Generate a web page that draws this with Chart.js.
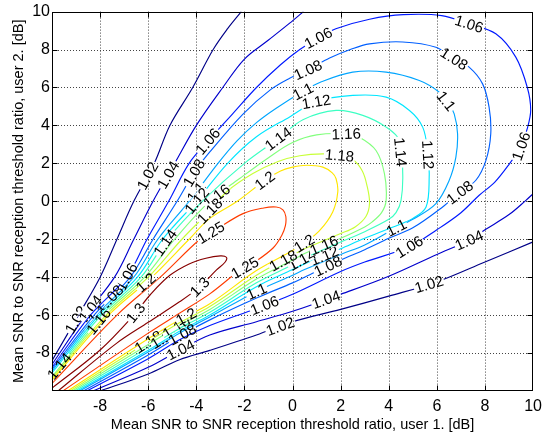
<!DOCTYPE html>
<html>
<head>
<meta charset="utf-8">
<script src="https://cdn.jsdelivr.net/npm/chart.js@4.4.0/dist/chart.umd.min.js"></script>
<style>
  html, body { margin: 0; padding: 0; background: #fff; }
  #wrap { width: 548px; height: 437px; }
</style>
</head>
<body>
<div id="wrap"><canvas id="contour"></canvas></div>
<script>
// tick values on both axes (dB)
const xTicks = [-10, -8, -6, -4, -2, 0, 2, 4, 6, 8, 10];
const yTicks = [-10, -8, -6, -4, -2, 0, 2, 4, 6, 8, 10];

// iso-lines, [user1 dB, user2 dB]
const c102up = [[-10,-8.4],[-8.9,-6],[-8.0,-4],[-7.3,-2],[-6.6,0],[-5.75,2],[-5.1,4],[-4.15,6],[-3.3,8],[-2.7,9.1],[-2.13,10]];
const c102lo = [[-8,-10],[-6,-9.1],[-4.7,-8.35],[-3.44,-7.86],[-1.5,-7.05],[0,-6.35],[2,-5.7],[4,-5.0],[6,-4.25],[8,-3.2],[10,-2.14]];
const c104up = [[-10,-8.6],[-8.6,-6],[-7.4,-4],[-6.6,-2],[-5.8,0],[-4.9,2],[-4.0,4],[-2.9,6],[-2.0,7.5],[-1,8.5],[-0.12,9.39],[0.45,10]];
const c104lo = [[-8.3,-10],[-6,-8.75],[-4.7,-7.85],[-3.44,-7.05],[-1.5,-6.35],[0,-5.8],[2,-4.9],[4,-3.95],[6,-2.8],[7.34,-2.05],[8,-1.5],[9,-0.7],[9.7,0.05],[10,0.4]];
const c106 = [[-10,-8.75],[-8.4,-6],[-6.9,-4],[-6.05,-2],[-5.15,0],[-4.3,2],[-3.5,3.2],[-2.5,4.6],[-1.5,6.0],[-0.5,7.2],[0.3,8.0],[1.05,8.6],[1.8,9.1],[3.2,9.6],[4.6,9.84],[6.2,9.79],[7.34,9.35],[8.45,8.83],[9.28,7.6],[9.76,6.0],[9.9,4.8],[9.75,3.8],[9.5,2.9],[9.0,1.95],[8.4,1.0],[7.76,0.32],[7,-0.6],[6,-1.5],[4.85,-2.4],[3,-3.2],[2,-3.7],[0,-4.9],[-1.5,-5.65],[-3.44,-6.55],[-4.7,-7.3],[-6,-8.3],[-8.55,-10]];
const c108 = [[-10,-8.85],[-8.25,-6],[-6.75,-4],[-5.8,-2],[-4.8,0],[-4.1,1.5],[-3.44,2.6],[-2.06,4.6],[-0.9,5.9],[-0.12,6.49],[0.64,6.93],[1.54,7.55],[2.4,8.0],[3.2,8.3],[4.58,8.4],[5.96,8.12],[6.72,7.51],[7.34,7.07],[7.9,6.19],[8.17,4.96],[8.24,3.56],[8.04,2.16],[7.62,1.11],[6.93,0.45],[6.24,-0.3],[5,-1.4],[4,-1.95],[3,-2.55],[2,-3.1],[0.5,-4.0],[0,-4.3],[-1.5,-5.1],[-3.44,-6.25],[-4.7,-7.1],[-6,-8.1],[-8.7,-10]];
const c110 = [[-10,-8.95],[-8.15,-6],[-6.6,-4],[-5.6,-2],[-4.3,0],[-3.1,2],[-2.3,3.2],[-1.5,4.15],[-0.68,4.91],[0.43,5.79],[1.2,6.3],[2.5,6.81],[3.89,6.81],[5.27,6.37],[6.1,5.75],[6.5,5.1],[6.72,4.61],[6.86,3.56],[6.79,2.33],[6.51,1.1],[5.96,-0.12],[5,-0.95],[4.3,-1.4],[3,-2.3],[2,-2.8],[0.5,-3.6],[0,-3.9],[-1.5,-4.75],[-3.44,-6.1],[-4.7,-6.95],[-6,-7.95],[-8.85,-10]];
const c112 = [[-10,-9.05],[-8.05,-6],[-6.45,-4],[-5.4,-2],[-4.0,0],[-2.7,2],[-1.5,3.4],[-0.12,4.45],[0.98,5.25],[2.5,5.58],[3.89,5.49],[4.86,4.79],[5.41,3.91],[5.62,2.6],[5.68,1.28],[5.55,-0.3],[5.0,-0.9],[4,-1.45],[3,-1.95],[2,-2.5],[0.5,-3.3],[0,-3.6],[-1.5,-4.5],[-3.44,-6.0],[-4.7,-6.85],[-6,-7.85],[-8.95,-10]];
const c114 = [[-10,-9.15],[-7.95,-6],[-6.3,-4],[-5.2,-2],[-3.75,0],[-2.0,2],[-0.6,3.3],[0.43,4.3],[1.81,4.79],[2.92,4.53],[3.89,3.91],[4.44,3.21],[4.58,1.46],[4.51,0.05],[4.3,-0.6],[4,-0.95],[3,-1.6],[2,-2.15],[0.5,-3.0],[0,-3.35],[-1.5,-4.3],[-3.44,-5.85],[-4.7,-6.7],[-6,-7.7],[-9.05,-10]];
const c116 = [[-10,-9.25],[-7.85,-6],[-6.15,-4],[-4.9,-2],[-3.45,0],[-2.2,1.2],[-1.0,2.3],[0,3.1],[1.0,3.5],[2.23,3.56],[2.78,3.38],[3.47,2.68],[3.82,1.46],[3.89,0.05],[3.7,-0.6],[3.3,-1.1],[3,-1.35],[2,-1.95],[0.5,-2.75],[0,-3.1],[-1.5,-4.1],[-3.44,-5.7],[-4.7,-6.55],[-6,-7.55],[-9.15,-10]];
const c118 = [[-10,-9.33],[-7.75,-6],[-6.0,-4],[-4.6,-2],[-3.44,-0.5],[-2.75,0.49],[-1.65,1.46],[-0.6,2.1],[0.3,2.4],[1.26,2.5],[1.95,2.42],[2.5,2.2],[2.9,1.6],[3.1,0.8],[3.2,-0.1],[3.05,-0.8],[2.6,-1.35],[2,-1.7],[0.5,-2.5],[0,-2.85],[-1.5,-3.9],[-3.44,-5.55],[-4.7,-6.4],[-6,-7.4],[-9.25,-10]];
const c120 = [[-10,-9.42],[-7.65,-6],[-5.85,-4],[-4.3,-2],[-3.44,-0.9],[-2.3,0],[-1.16,1.1],[-0.5,1.6],[0,1.8],[0.6,1.9],[1.26,1.8],[1.65,1.5],[1.81,1.19],[1.88,0.49],[1.67,-0.56],[1.12,-1.55],[0.5,-2.2],[0,-2.6],[-1.5,-3.65],[-3.44,-5.4],[-4.7,-6.25],[-6,-7.25],[-9.35,-10]];
const c125 = [[-10,-9.6],[-7.3,-6],[-5.5,-4],[-3.85,-2],[-3.2,-1.5],[-2.06,-0.65],[-1.2,-0.35],[-0.68,-0.3],[-0.4,-0.45],[-0.28,-0.8],[-0.3,-1.3],[-0.45,-1.8],[-0.8,-2.45],[-1.51,-3.15],[-2.2,-3.65],[-3.44,-4.88],[-4.7,-5.9],[-6,-6.95],[-9.55,-10]];
const c130 = [[-10,-9.85],[-8,-7.84],[-6.6,-6],[-5.9,-4.9],[-5.1,-3.9],[-4.3,-3.3],[-3.6,-3.0],[-3.0,-2.88],[-2.75,-2.95],[-2.8,-3.2],[-3.17,-3.63],[-3.86,-4.51],[-4.7,-5.3],[-6,-6.38],[-7.32,-7.49],[-9.75,-10]];

// [level, user1 dB, user2 dB] of each inline label
const contourLabels = [
  [1.02,-6.06,1.37],[1.04,-5.25,1.45],[1.06,-3.55,3.2],[1.08,-4.1,1.5],[1.1,-4.2,0.67],[1.12,-4.0,0.05],
  [1.16,-3.2,0.35],[1.18,-3.45,-0.5],[1.14,-5.24,-2.23],[1.2,-1.16,1.1],[1.25,-3.4,-1.65],
  [1.02,-8.98,-6.26],[1.04,-8.49,-5.56],[1.06,-6.9,-3.98],[1.08,-7.6,-5.04],[1.1,-7.9,-6.2],[1.16,-7.8,-6.6],
  [1.14,-9.67,-8.72],[1.2,-6.07,-4.33],[1.3,-6.49,-5.91],[1.3,-3.86,-4.51],[1.25,-1.98,-3.5],
  [1.18,-5.99,-7.42],[1.14,-5.3,-7.25],[1.16,-4.88,-6.54],[1.2,-4.33,-6.3],[1.08,-4.6,-6.98],[1.04,-4.68,-7.77],
  [1.02,-0.54,-6.5],[1.06,-1.16,-5.5],[1.1,-1.44,-4.9],[1.04,1.4,-5.2],[1.08,1.5,-3.5],[1.12,1.3,-2.8],
  [1.14,0.4,-3.1],[1.18,-0.4,-3.1],[1.2,0.45,-2.15],[1.16,1.3,-2.3],
  [1.1,4.3,-1.35],[1.06,4.85,-2.4],[1.04,7.34,-2.05],[1.02,5.68,-4.42],[1.08,6.93,0.5],[1.06,9.5,2.9],
  [1.12,5.6,2.45],[1.14,4.55,2.6],[1.1,6.4,5.3],[1.08,6.72,7.51],[1.06,7.34,9.35],
  [1.06,1.05,8.65],[1.08,0.64,6.93],[1.1,0.43,5.8],[1.12,0.98,5.3],[1.14,-0.6,3.3],[1.16,2.23,3.56],[1.18,1.95,2.42]
];

const contourLines = [
  [1.02, c102up], [1.02, c102lo], [1.04, c104up], [1.04, c104lo], [1.06, c106], [1.08, c108],
  [1.1, c110], [1.12, c112], [1.14, c114], [1.16, c116], [1.18, c118], [1.2, c120], [1.25, c125], [1.3, c130]
];

// jet colours as used by the contour levels
const levelColor = {
  1.02: 'rgb(0,0,135)', 1.04: 'rgb(0,0,205)', 1.06: 'rgb(0,25,255)', 1.08: 'rgb(0,95,255)',
  1.1: 'rgb(0,165,255)', 1.12: 'rgb(0,230,255)', 1.14: 'rgb(60,255,195)', 1.16: 'rgb(130,255,125)',
  1.18: 'rgb(200,255,55)', 1.2: 'rgb(255,230,0)', 1.25: 'rgb(255,60,0)', 1.3: 'rgb(135,0,0)'
};

const FONT = '"Liberation Sans", Arial, Helvetica, sans-serif';

function drawGrid(chart) {
  const { ctx, chartArea: a, scales: { x, y } } = chart;
  ctx.save();
  ctx.strokeStyle = '#444';
  ctx.lineWidth = 1;
  ctx.setLineDash([1, 2]);
  xTicks.forEach(v => {
    if (v <= -10 || v >= 10) return;
    const px = Math.round(x.getPixelForValue(v)) + 0.5;
    ctx.beginPath(); ctx.moveTo(px, a.top); ctx.lineTo(px, a.bottom); ctx.stroke();
  });
  yTicks.forEach(v => {
    if (v <= -10 || v >= 10) return;
    const py = Math.round(y.getPixelForValue(v)) + 0.5;
    ctx.beginPath(); ctx.moveTo(a.left, py); ctx.lineTo(a.right, py); ctx.stroke();
  });
  ctx.restore();
}

const contourDecor = {
  id: 'contourDecor',
  beforeDatasetsDraw(chart) {
    drawGrid(chart);
  },
  afterDatasetsDraw(chart) {
    const { ctx, chartArea: a, scales: { x, y } } = chart;
    ctx.save();
    ctx.font = '15px ' + FONT;
    contourLabels.forEach(([lv, lx, ly]) => {
      const px = x.getPixelForValue(lx), py = y.getPixelForValue(ly);
      let best = null;
      contourLines.forEach(([level, pts]) => {
        if (level !== lv) return;
        for (let i = 0; i < pts.length - 1; i++) {
          const ax = x.getPixelForValue(pts[i][0]), ay = y.getPixelForValue(pts[i][1]);
          const bx = x.getPixelForValue(pts[i + 1][0]), by = y.getPixelForValue(pts[i + 1][1]);
          const dx = bx - ax, dy = by - ay, len2 = dx * dx + dy * dy;
          let t = len2 ? ((px - ax) * dx + (py - ay) * dy) / len2 : 0;
          t = Math.max(0, Math.min(1, t));
          const qx = ax + t * dx, qy = ay + t * dy;
          const d = (qx - px) ** 2 + (qy - py) ** 2;
          if (!best || d < best.d) best = { d, qx, qy, ang: Math.atan2(dy, dx) };
        }
      });
      if (!best) return;
      let ang = best.ang;
      if (ang > Math.PI / 2) ang -= Math.PI;
      if (ang < -Math.PI / 2) ang += Math.PI;
      const text = String(lv);
      const w = ctx.measureText(text).width;

      // cut a gap in the line, then put back the grid and the other levels
      ctx.save();
      ctx.translate(best.qx, best.qy);
      ctx.rotate(ang);
      ctx.beginPath();
      ctx.rect(-w / 2 - 1, -5.5, w + 2, 11);
      ctx.restore();
      ctx.save();
      ctx.fillStyle = '#fff';
      ctx.fill();
      ctx.clip();
      drawGrid(chart);
      chart.data.datasets.forEach((ds, i) => {
        if (ds.level === lv) return;
        chart.getDatasetMeta(i).dataset.draw(ctx, a);
      });
      ctx.restore();

      ctx.save();
      ctx.translate(best.qx, best.qy);
      ctx.rotate(ang);
      ctx.fillStyle = '#000';
      ctx.textAlign = 'center';
      ctx.textBaseline = 'middle';
      ctx.fillText(text, 0, 1);
      ctx.restore();
    });
    ctx.restore();
  },
  afterDraw(chart) {
    const { ctx, chartArea: a, scales: { x, y } } = chart;
    ctx.save();
    ctx.strokeStyle = '#000';
    ctx.lineWidth = 1;
    const L = Math.round(a.left) + 0.5, R = Math.round(a.right) - 0.5;
    const T = Math.round(a.top) + 0.5, B = Math.round(a.bottom) - 0.5;
    ctx.strokeRect(L, T, R - L, B - T);
    const tl = 5;
    ctx.beginPath();
    xTicks.forEach(v => {
      if (v <= -10 || v >= 10) return;
      const px = Math.round(x.getPixelForValue(v)) + 0.5;
      ctx.moveTo(px, B); ctx.lineTo(px, B - tl);
      ctx.moveTo(px, T); ctx.lineTo(px, T + tl);
    });
    yTicks.forEach(v => {
      if (v <= -10 || v >= 10) return;
      const py = Math.round(y.getPixelForValue(v)) + 0.5;
      ctx.moveTo(L, py); ctx.lineTo(L + tl, py);
      ctx.moveTo(R, py); ctx.lineTo(R - tl, py);
    });
    ctx.stroke();
    ctx.restore();
  }
};

const datasets = contourLines.map(([level, pts]) => ({
  level,
  data: pts.map(([px, py]) => ({ x: px, y: py })),
  showLine: true,
  borderColor: levelColor[level],
  borderWidth: 1.15,
  pointRadius: 0,
  tension: 0.35,
  fill: false
}));

const tickLabel = v => (v === -10 ? '' : String(v));

new Chart(document.getElementById('contour'), {
  type: 'scatter',
  data: { datasets },
  options: {
    responsive: true,
    maintainAspectRatio: false,
    animation: false,
    events: [],
    layout: { padding: { top: 11, right: 14, left: 0, bottom: 0 } },
    plugins: { legend: { display: false }, tooltip: { enabled: false } },
    scales: {
      x: {
        type: 'linear', position: 'bottom', min: -10, max: 10,
        afterFit: s => { s.height = 46; },
        afterBuildTicks: s => { s.ticks = xTicks.map(v => ({ value: v })); },
        ticks: { color: '#000', font: { size: 16, family: FONT }, padding: 6, maxRotation: 0, autoSkip: false, callback: tickLabel },
        grid: { display: false, drawTicks: false },
        border: { display: false },
        title: {
          display: true, text: 'Mean SNR to SNR reception threshold ratio, user 1. [dB]',
          color: '#000', font: { size: 14.5, family: FONT }, padding: { top: 0, bottom: 3 }
        }
      },
      y: {
        type: 'linear', position: 'left', min: -10, max: 10,
        afterFit: s => { s.width = 52; },
        afterBuildTicks: s => { s.ticks = yTicks.map(v => ({ value: v })); },
        ticks: { color: '#000', font: { size: 16, family: FONT }, padding: 2, autoSkip: false, callback: tickLabel },
        grid: { display: false, drawTicks: false },
        border: { display: false },
        title: {
          display: true, text: 'Mean SNR to SNR reception threshold ratio, user 2. [dB]',
          color: '#000', font: { size: 14.5, family: FONT }, padding: { top: 10, bottom: 0 }
        }
      }
    }
  },
  plugins: [contourDecor]
});
</script>
</body>
</html>
